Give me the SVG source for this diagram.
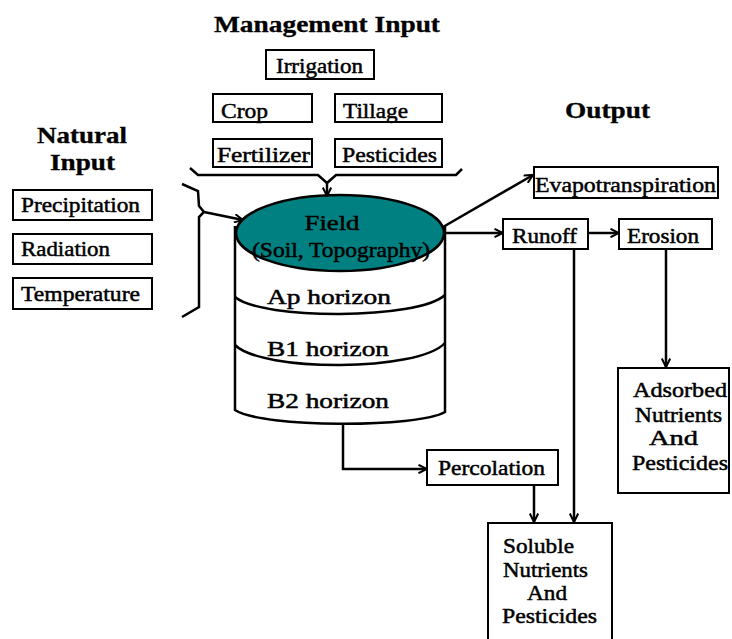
<svg xmlns="http://www.w3.org/2000/svg" width="732" height="639" viewBox="0 0 732 639">
<defs>
<marker id="arr" viewBox="0 0 10 10" refX="9.5" refY="5" markerWidth="10" markerHeight="10" markerUnits="userSpaceOnUse" orient="auto">
<path d="M1,0.8 L9.5,5 L1,9.2" fill="none" stroke="#000" stroke-width="2"/>
</marker>
<style>
text{font-family:"Liberation Serif","Times New Roman","DejaVu Serif",serif;fill:#000;font-size:22px;stroke:#000;stroke-width:0.5}
.t{font-weight:bold;font-size:23px;stroke-width:0.3}
.box{fill:#fff;stroke:#000;stroke-width:2}
.ln{fill:none;stroke:#000;stroke-width:2.5}
.m{text-anchor:middle}
</style>
</defs>
<rect width="732" height="639" fill="#fff"/>

<g id="titles">
<text class="t" x="214" y="32" textLength="226" lengthAdjust="spacingAndGlyphs">Management Input</text>
<text class="t" x="37" y="143" textLength="90" lengthAdjust="spacingAndGlyphs">Natural</text>
<text class="t" x="50" y="170" textLength="65" lengthAdjust="spacingAndGlyphs">Input</text>
<text class="t" x="565" y="118" textLength="85" lengthAdjust="spacingAndGlyphs">Output</text>
</g>

<g id="irrigation"><rect class="box" x="266" y="50" width="108" height="29"/><text x="276" y="73" textLength="87" lengthAdjust="spacingAndGlyphs">Irrigation</text></g>
<g id="crop"><rect class="box" x="213" y="94" width="99" height="28"/><text x="221" y="118" textLength="47" lengthAdjust="spacingAndGlyphs">Crop</text></g>
<g id="tillage"><rect class="box" x="335" y="94" width="107" height="28"/><text x="343" y="118" textLength="65" lengthAdjust="spacingAndGlyphs">Tillage</text></g>
<g id="fertilizer"><rect class="box" x="213" y="139" width="99" height="28"/><text x="217" y="162" textLength="93" lengthAdjust="spacingAndGlyphs">Fertilizer</text></g>
<g id="pesticides"><rect class="box" x="335" y="139" width="107" height="28"/><text x="342" y="162" textLength="95" lengthAdjust="spacingAndGlyphs">Pesticides</text></g>

<g id="precipitation"><rect class="box" x="13" y="190" width="139" height="30"/><text x="21" y="212" textLength="119" lengthAdjust="spacingAndGlyphs">Precipitation</text></g>
<g id="radiation"><rect class="box" x="13" y="234" width="139" height="30"/><text x="21" y="256" textLength="89" lengthAdjust="spacingAndGlyphs">Radiation</text></g>
<g id="temperature"><rect class="box" x="13" y="278" width="139" height="31"/><text x="21" y="301" textLength="119" lengthAdjust="spacingAndGlyphs">Temperature</text></g>

<g id="field">
<path class="ln" d="M235,226 L235,410 C262,428 418,428 445,412 L445,226" fill="#fff"/>
<path class="ln" d="M235,297 C262,320 418,320 445,295"/>
<path class="ln" d="M235,345 C262,372 418,372 445,343"/>
<ellipse cx="340" cy="233" rx="104" ry="38" fill="#008080" stroke="#000" stroke-width="2.5"/>
<text class="m" x="332" y="230" textLength="55" lengthAdjust="spacingAndGlyphs">Field</text>
<text x="252" y="257" textLength="178" lengthAdjust="spacingAndGlyphs">(Soil, Topography)</text>
<text x="267" y="304" textLength="124" lengthAdjust="spacingAndGlyphs">Ap horizon</text>
<text x="267" y="356" textLength="122" lengthAdjust="spacingAndGlyphs">B1 horizon</text>
<text x="267" y="408" textLength="122" lengthAdjust="spacingAndGlyphs">B2 horizon</text>
</g>

<g id="evapotranspiration"><rect class="box" x="534" y="167" width="184" height="31"/><text x="535" y="192" textLength="181" lengthAdjust="spacingAndGlyphs">Evapotranspiration</text></g>
<g id="runoff"><rect class="box" x="503" y="219" width="85" height="30"/><text x="512" y="243" textLength="65" lengthAdjust="spacingAndGlyphs">Runoff</text></g>
<g id="erosion"><rect class="box" x="619" y="219" width="93" height="30"/><text x="627" y="243" textLength="72" lengthAdjust="spacingAndGlyphs">Erosion</text></g>
<g id="percolation"><rect class="box" x="427" y="450" width="131" height="35"/><text x="438" y="475" textLength="107" lengthAdjust="spacingAndGlyphs">Percolation</text></g>

<g id="adsorbed">
<rect class="box" x="618" y="368" width="111" height="125"/>
<text x="633" y="397" textLength="94" lengthAdjust="spacingAndGlyphs">Adsorbed</text>
<text x="635" y="422" textLength="87" lengthAdjust="spacingAndGlyphs">Nutrients</text>
<text x="649" y="445" textLength="49" lengthAdjust="spacingAndGlyphs">And</text>
<text x="632" y="470" textLength="96" lengthAdjust="spacingAndGlyphs">Pesticides</text>
</g>
<g id="soluble">
<rect class="box" x="488" y="523" width="124" height="130"/>
<text x="503" y="553" textLength="71" lengthAdjust="spacingAndGlyphs">Soluble</text>
<text x="503" y="577" textLength="85" lengthAdjust="spacingAndGlyphs">Nutrients</text>
<text x="527" y="600" textLength="40" lengthAdjust="spacingAndGlyphs">And</text>
<text x="502" y="623" textLength="95" lengthAdjust="spacingAndGlyphs">Pesticides</text>
</g>

<g id="connectors">
<path class="ln" d="M190,168 L198,175 L318,175 L327,183 L336,175 L456,175 L462,169"/>
<path class="ln" d="M327,183 L327,196" marker-end="url(#arr)"/>
<path class="ln" d="M182,184 L198,191 L199,206 L204,212 L199,217 L199,307 L182,317"/>
<path class="ln" d="M204,212 L243,220" marker-end="url(#arr)"/>
<path class="ln" d="M443,227 L533,175" marker-end="url(#arr)"/>
<path class="ln" d="M445,233 L503,233" marker-end="url(#arr)"/>
<path class="ln" d="M588,233 L619,233" marker-end="url(#arr)"/>
<path class="ln" d="M574,249 L574,522" marker-end="url(#arr)"/>
<path class="ln" d="M666,249 L666,367" marker-end="url(#arr)"/>
<path class="ln" d="M343,425 L343,469 L427,469" marker-end="url(#arr)"/>
<path class="ln" d="M534,485 L534,522" marker-end="url(#arr)"/>
</g>
</svg>
